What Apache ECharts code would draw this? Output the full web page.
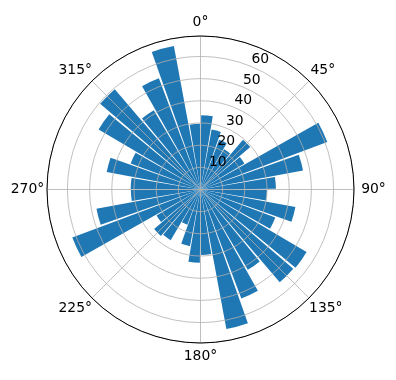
<!DOCTYPE html>
<html><head><meta charset="utf-8">
<script src="https://cdn.jsdelivr.net/npm/echarts@6/dist/echarts.min.js"></script>
<style>html,body{margin:0;padding:0;background:#fff}#c{width:396px;height:380px}</style>
</head><body><div id="c"></div>
<script>
// 10-degree direction bins, clockwise from north
const binLabels = ['0-10','10-20','20-30','30-40','40-50','50-60','60-70','70-80','80-90',
  '90-100','100-110','110-120','120-130','130-140','140-150','150-160','160-170','170-180',
  '180-190','190-200','200-210','210-220','220-230','230-240','240-250','250-260','260-270',
  '270-280','280-290','290-300','300-310','310-320','320-330','330-340','340-350','350-360'];
const counts = [33.5, 27.5, 24, 21, 29.5, 23, 61, 47, 34,
  30, 43.5, 36, 55.5, 55, 42, 52.5, 64, 29.5,
  33, 26, 17, 26.5, 27.5, 23, 61.7, 47.7, 31.4,
  31.5, 43, 33.6, 53.3, 59.5, 41.5, 53.5, 65.8, 29.6];
const angleTickValues = [0, 45, 90, 135, 180, 225, 270, 315];
const angleTickLabels = ['0°','45°','90°','135°','180°','225°','270°','315°'];
const radialTickValues = [10, 20, 30, 40, 50, 60];
const radialTickLabels = ['10','20','30','40','50','60'];
const rMax = 69.2;

const C = [200.5, 189.5], R = 153.5;
const FS = 13.9, LH = 14, PAD = 19.5;
const fontStr = FS + 'px "DejaVu Sans"';
const font = {fontFamily: 'DejaVu Sans', fontSize: FS, color: '#000'};

// per-label padding so each angle label is centred PAD px outside the circle
const mctx = document.createElement('canvas').getContext('2d');
mctx.font = fontStr;
const rich = {};
angleTickValues.forEach((a, i) => {
  const w = mctx.measureText(angleTickLabels[i]).width;
  const s = Math.sin(a * Math.PI / 180), c = Math.cos(a * Math.PI / 180);
  let pl = 0, pr = 0, pt = 0, pb = 0;
  if (Math.abs(s) >= 0.3) { if (s > 0) pl = Math.max(0, PAD * s - w / 2); else pr = Math.max(0, -PAD * s - w / 2); }
  if (Math.abs(c) >= 0.3) { if (c > 0) pb = Math.max(0, PAD * c - LH / 2); else pt = Math.max(0, -PAD * c - LH / 2); }
  rich['t' + i] = Object.assign({padding: [pt, pr, pb, pl], lineHeight: LH}, font);
});

const chart = echarts.init(document.getElementById('c'), null, {renderer: 'canvas'});
chart.setOption({
  animation: false,
  backgroundColor: '#fff',
  polar: [
    {center: C, radius: R},
    {center: C, radius: R},
    {center: C, radius: R}
  ],
  angleAxis: [
    {polarIndex: 0, type: 'category', data: binLabels, startAngle: 90, clockwise: true,
     boundaryGap: true, axisLine: {show: false}, axisTick: {show: false},
     axisLabel: {show: false}, splitLine: {show: false}, z: 1},
    {polarIndex: 1, type: 'value', min: 0, max: 360, interval: 45, startAngle: 90, clockwise: true,
     axisLine: {lineStyle: {color: '#000', width: 1}}, axisTick: {show: false},
     axisLabel: Object.assign({
       formatter: v => { const i = angleTickValues.indexOf(v); return i >= 0 ? '{t' + i + '|' + angleTickLabels[i] + '}' : ''; },
       margin: 0, rich: rich, lineHeight: LH
     }, font),
     splitLine: {lineStyle: {color: '#b0b0b0', width: 0.8}}, z: 4},
    {polarIndex: 2, type: 'value', min: 0, max: 360, startAngle: 67.5, clockwise: true,
     axisLine: {show: false}, axisTick: {show: false}, axisLabel: {show: false}, splitLine: {show: false}}
  ],
  radiusAxis: [
    {polarIndex: 0, type: 'value', min: 0, max: rMax, axisLine: {show: false}, axisTick: {show: false},
     axisLabel: {show: false}, splitLine: {show: false}},
    {polarIndex: 1, type: 'value', min: 0, max: rMax, interval: 10, axisLine: {show: false},
     axisTick: {show: false}, axisLabel: {show: false},
     splitLine: {lineStyle: {color: '#b0b0b0', width: 0.8}}, z: 3},
    {polarIndex: 2, type: 'value', min: 0, max: rMax, interval: 10, axisLine: {show: false},
     axisTick: {show: false}, splitLine: {show: false},
     axisLabel: Object.assign({
       formatter: v => { const i = radialTickValues.indexOf(v); return i >= 0 ? radialTickLabels[i] : ''; },
       margin: 0, align: 'left', verticalAlign: 'bottom', showMinLabel: true, showMaxLabel: true
     }, font), z: 5}
  ],
  series: [{
    type: 'bar', coordinateSystem: 'polar', polarIndex: 0,
    data: counts, barCategoryGap: '10%',
    itemStyle: {color: '#1f77b4'}, z: 2
  }]
});
</script></body></html>
